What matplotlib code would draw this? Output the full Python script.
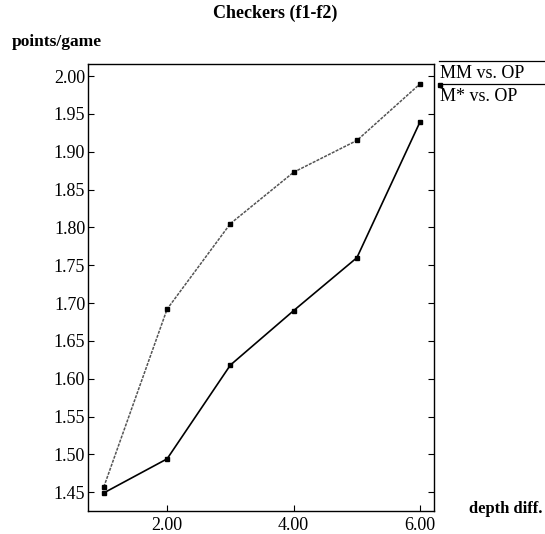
import matplotlib.pyplot as plt
from matplotlib.lines import Line2D

plt.rcParams['font.family'] = ['Liberation Serif', 'DejaVu Serif']

depth = [1, 2, 3, 4, 5, 6]
mm_vs_op = [1.457, 1.692, 1.805, 1.873, 1.915, 1.990]
mstar_vs_op = [1.449, 1.494, 1.618, 1.690, 1.760, 1.940]
y_ticks = [1.45, 1.50, 1.55, 1.60, 1.65, 1.70, 1.75, 1.80, 1.85, 1.90, 1.95, 2.00]
x_ticks = [2, 4, 6]

fig = plt.figure(figsize=(5.45, 5.34), dpi=100)
ax = fig.add_axes([0.1615, 0.043, 0.635, 0.837])

ax.plot(depth, mm_vs_op, color='#555555', linestyle=(0, (2, 0.8)), linewidth=1.1,
        marker='s', markersize=2.5, markerfacecolor='black', markeredgecolor='black')
ax.plot(depth, mstar_vs_op, color='black', linewidth=1.2,
        marker='s', markersize=2.5)

ax.set_xlim(0.75, 6.22)
ax.set_ylim(1.425, 2.016)
ax.set_xticks(x_ticks)
ax.set_xticklabels(['%.2f' % v for v in x_ticks])
ax.set_yticks(y_ticks)
ax.set_yticklabels(['%.2f' % v for v in y_ticks])
ax.tick_params(axis='both', direction='in', length=4, width=0.8, labelsize=13)
ax.tick_params(axis='y', right=True, pad=2)
ax.tick_params(axis='x', pad=4)
for s in ax.spines.values():
    s.set_linewidth(1.0)

fig.text(0.505, 0.975, 'Checkers (f1-f2)', ha='center', va='center',
         fontsize=13, fontweight='bold')
fig.text(0.022, 0.921, 'points/game', ha='left', va='center',
         fontsize=12.5, fontweight='bold')
fig.text(0.860, 0.047, 'depth diff.', ha='left', va='center',
         fontsize=12, fontweight='bold')

# legend with overlines
leg = [('MM vs. OP', 0.886), ('M* vs. OP', 0.843)]
for label, y in leg:
    fig.add_artist(Line2D([0.806, 0.998], [y, y], color='black', linewidth=0.9,
                          transform=fig.transFigure))
    fig.text(0.808, y - 0.023, label, ha='left', va='center', fontsize=13)
fig.add_artist(Line2D([0.808], [0.840], marker='s', markersize=2.5, color='black',
                      transform=fig.transFigure))

fig.savefig('out.png', dpi=100)
